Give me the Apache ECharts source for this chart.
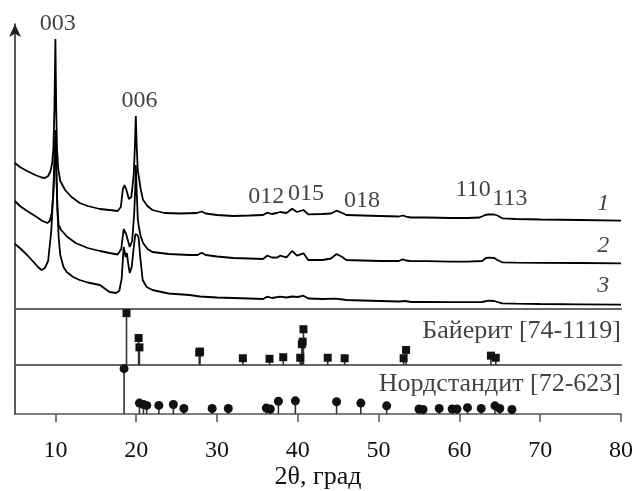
<!DOCTYPE html>
<html>
<head>
<meta charset="utf-8">
<script src="https://cdn.jsdelivr.net/npm/echarts@6/dist/echarts.min.js"></script>
<style>
  html, body { margin: 0; padding: 0; background: #fff; }
  #xrd-chart { width: 638px; height: 491px; }
</style>
</head>
<body>
<div id="xrd-chart"></div>
<script>
// XRD patterns, offset intensity in arbitrary units vs 2theta
var curve1 = [[5.0,146],[5.6,142],[6.5,138],[7.5,134],[8.3,131.5],[8.7,131],[9.1,133],[9.4,138],[9.6,146],[9.75,160],[9.88,200],[10.0,270],[10.1,200],[10.2,160],[10.35,140],[10.6,128],[11.2,119],[12.0,112],[13.0,106],[14.0,103],[15.5,100],[16.7,99],[17.7,98],[18.1,102],[18.35,120],[18.55,124],[18.75,120],[18.9,122],[19.1,110],[19.4,112],[19.7,135],[19.85,165],[19.95,193],[20.05,165],[20.2,138],[20.35,131],[20.55,120],[20.85,109],[21.4,103],[22.0,99],[23.5,96],[25.4,95.5],[27.5,96],[28.1,97.5],[28.6,95.5],[30,94],[32,93],[34,93.5],[35.7,94],[36.2,96.3],[36.8,95],[37.4,96],[37.8,97],[38.6,96],[39.3,100.3],[39.9,97],[40.7,99],[41.3,94.7],[43.1,95],[44.1,95.5],[44.8,98.3],[45.5,96],[46,94],[48,93.5],[50.2,93],[52.5,92.5],[53.0,93.5],[53.4,92.3],[54,91.5],[56,91.5],[58.9,91],[61,91],[62.5,91.5],[63.2,94],[63.6,94.7],[64.3,94.5],[64.7,93.5],[65.3,90.7],[67,90],[70,89.5],[75,89],[80,88.3]];

var curve2 = [[5.0,108],[5.6,103],[6.5,98],[7.5,93],[8.4,88],[9.0,86],[9.3,88],[9.55,96],[9.75,115],[9.88,145],[10.0,179],[10.12,140],[10.25,100],[10.4,84],[10.7,79],[11.5,72],[12.5,66],[14.0,61],[15.5,58],[16.7,56],[17.7,54.5],[18.15,60],[18.45,80],[18.6,81],[18.75,75],[18.9,77],[19.2,62],[19.5,68],[19.75,95],[19.88,120],[19.95,144],[20.05,120],[20.2,90],[20.35,81],[20.55,73],[20.85,66],[21.4,60],[22.0,57],[24,55],[26.6,54],[27.6,54],[28.1,56.3],[28.6,54],[30,52.5],[32,51],[34,50.5],[35.7,50],[36.2,53.3],[36.8,51.5],[37.4,51.3],[37.8,53.3],[38.6,51.7],[39.3,58],[39.9,53.3],[40.7,55.7],[41.3,49],[43.1,49],[44.1,50.5],[44.8,55],[45.5,52],[46,49],[48,48.5],[50.2,48],[52.5,48],[53.0,49.7],[53.4,48.5],[54,47.8],[56,47.8],[58.9,47.3],[61,47.3],[62.8,48],[63.3,51],[63.6,51.3],[64.3,51],[64.7,49],[65.3,46.7],[67,46.3],[70,46.2],[75,46],[80,45.7]];

var curve3 = [[5.0,65],[5.6,61],[6.5,54],[7.3,47],[7.9,41.5],[8.3,39],[8.7,41],[9.1,48],[9.5,79],[9.75,120],[9.9,150],[10.0,169],[10.1,140],[10.25,100],[10.4,72],[10.6,54],[11.0,42],[11.4,37],[12.2,32],[13.0,29],[14.0,26.5],[15.5,24],[16.7,17],[17.5,16],[17.9,18],[18.2,30],[18.45,62],[18.6,56],[18.7,52],[18.85,56],[19.0,46],[19.2,36],[19.45,42],[19.7,62],[19.9,75],[20.0,76],[20.15,74],[20.3,71],[20.5,52],[20.8,29],[21.3,22],[22.0,19],[24,15.5],[26.6,14],[27.9,12.5],[30,11.5],[32,11],[34,10.5],[35.7,10],[36.2,12.3],[36.8,11],[37.8,12.3],[38.6,11.5],[39.3,12.5],[40.0,12],[40.7,13.3],[41.3,10.5],[43.1,10],[44.7,10.3],[46,9],[48,8.5],[50.2,8],[52.5,7.5],[53.3,8],[54,7],[56,7],[58.9,6.8],[61,6.8],[62.8,7],[63.6,8.3],[64.3,8],[65.3,5.7],[67,5.3],[70,5],[75,4.6],[80,4.3]];

// reflection indices above the peaks
var hklNames = ['003', '006', '012', '015', '018', '110', '113'];
var hklTheta = [10.3, 20.4, 36.1, 41.0, 47.95, 61.7, 66.25];
var hklLevel = [285, 208, 112, 115, 108, 119, 110];

// curve numbers
var curveNames = ['1', '2', '3'];
var curveNameTheta = 77.8;
var curveNameLevel = [105, 63, 23];

// reference cards (relative intensity, %)
var bayeriteTheta = [18.8, 20.3, 20.4, 27.8, 27.9, 33.2, 36.5, 38.2, 40.3, 40.5, 40.6, 40.7, 43.7, 45.8, 53.1, 53.4, 63.9, 64.5];
var bayeriteInt   = [100, 52, 34, 24, 26, 13, 12, 15, 14, 40, 45, 69, 14, 13, 13, 29, 18, 14];
var nordTheta = [18.5, 20.4, 20.9, 21.3, 22.8, 24.6, 25.9, 29.4, 31.4, 36.1, 36.6, 37.6, 39.7, 44.8, 47.8, 51.0, 55.0, 55.5, 57.5, 59.1, 59.7, 61.0, 62.7, 64.4, 65.0, 66.5];
var nordInt   = [100, 24, 21, 19, 19, 21, 12, 12, 12, 13, 11, 28, 29, 27, 24, 18, 11, 10, 12, 11, 11, 14, 12, 18, 12, 10];
var cardNames = ['Байерит [74-1119]', 'Нордстандит [72-623]'];
var cardLabelLevel = 66;

var xTicks = [10, 20, 30, 40, 50, 60, 70, 80];

var serif = 'Liberation Serif';
var ink = '#111';

function pairs(xs, ys) {
  return xs.map(function (x, i) { return [x, ys[i]]; });
}

var myChart = echarts.init(document.getElementById('xrd-chart'), null, { renderer: 'canvas' });

var hiddenX = function (idx) {
  return {
    type: 'value', gridIndex: idx, min: 5, max: 80,
    axisLine: { show: true, onZero: false, lineStyle: { color: '#666', width: 2 } },
    axisTick: { show: false }, axisLabel: { show: false }, splitLine: { show: false }
  };
};
var plainY = function (idx, max) {
  return {
    type: 'value', gridIndex: idx, min: 0, max: max,
    axisLine: { show: true, onZero: false, lineStyle: { color: '#222', width: 1.5 } },
    axisTick: { show: false }, axisLabel: { show: false }, splitLine: { show: false }
  };
};

var curveStyle = { color: '#000', width: 1.8 };
var textLabel = function (fontSize, italic) {
  return {
    show: true, position: [0, 0], align: 'center', verticalAlign: 'middle',
    formatter: '{b}', color: ink, fontFamily: serif, fontSize: fontSize,
    fontStyle: italic ? 'italic' : 'normal'
  };
};
var cardLabel = {
  show: true, position: [0, 0], align: 'right', verticalAlign: 'middle',
  formatter: '{b}', color: ink, fontFamily: serif, fontSize: 26
};

var yTop = plainY(0, 285);
yTop.axisLine.symbol = ['none', 'arrow'];
yTop.axisLine.symbolSize = [9, 13];

var bottomX = {
  type: 'value', gridIndex: 2, min: 5, max: 80,
  axisLine: { show: true, onZero: false, lineStyle: { color: '#555', width: 1.5 } },
  axisTick: { show: true, length: 8, customValues: xTicks, lineStyle: { color: '#555', width: 1.5 } },
  axisLabel: { show: true, customValues: xTicks, margin: 25, fontFamily: serif, fontSize: 24, color: ink },
  splitLine: { show: false },
  name: '2θ, град', nameLocation: 'middle', nameGap: 43,
  nameTextStyle: { fontFamily: serif, fontSize: 26, color: ink }
};

myChart.setOption({
  animation: false,
  backgroundColor: '#fff',
  grid: [
    { left: 15, right: 17, top: 24, height: 285 },
    { left: 15, right: 17, top: 309, height: 56 },
    { left: 15, right: 17, top: 365, height: 49 }
  ],
  xAxis: [hiddenX(0), hiddenX(1), bottomX],
  yAxis: [yTop, plainY(1, 108), plainY(2, 108)],
  series: [
    { type: 'line', xAxisIndex: 0, yAxisIndex: 0, data: curve1, symbol: 'none', lineStyle: curveStyle, z: 3 },
    { type: 'line', xAxisIndex: 0, yAxisIndex: 0, data: curve2, symbol: 'none', lineStyle: curveStyle, z: 3 },
    { type: 'line', xAxisIndex: 0, yAxisIndex: 0, data: curve3, symbol: 'none', lineStyle: curveStyle, z: 3 },
    {
      type: 'scatter', xAxisIndex: 0, yAxisIndex: 0, symbolSize: 0, silent: true,
      data: hklNames.map(function (n, i) { return { name: n, value: [hklTheta[i], hklLevel[i]] }; }),
      label: textLabel(24, false)
    },
    {
      type: 'scatter', xAxisIndex: 0, yAxisIndex: 0, symbolSize: 0, silent: true,
      data: curveNames.map(function (n, i) { return { name: n, value: [curveNameTheta, curveNameLevel[i]] }; }),
      label: textLabel(24, true)
    },
    {
      type: 'bar', xAxisIndex: 1, yAxisIndex: 1, barWidth: 1.6,
      data: pairs(bayeriteTheta, bayeriteInt), itemStyle: { color: '#333' }
    },
    {
      type: 'scatter', xAxisIndex: 1, yAxisIndex: 1, symbol: 'rect', symbolSize: 8,
      data: pairs(bayeriteTheta, bayeriteInt), itemStyle: { color: '#111', opacity: 1 }
    },
    {
      type: 'bar', xAxisIndex: 2, yAxisIndex: 2, barWidth: 1.6,
      data: pairs(nordTheta, nordInt), itemStyle: { color: '#333' }
    },
    {
      type: 'scatter', xAxisIndex: 2, yAxisIndex: 2, symbol: 'circle', symbolSize: 9,
      data: pairs(nordTheta, nordInt), itemStyle: { color: '#111', opacity: 1 }
    },
    {
      type: 'scatter', xAxisIndex: 1, yAxisIndex: 1, symbolSize: 0, silent: true,
      data: [{ name: cardNames[0], value: [80, cardLabelLevel] }],
      label: cardLabel
    },
    {
      type: 'scatter', xAxisIndex: 2, yAxisIndex: 2, symbolSize: 0, silent: true,
      data: [{ name: cardNames[1], value: [80, cardLabelLevel] }],
      label: cardLabel
    }
  ]
});
</script>
</body>
</html>
